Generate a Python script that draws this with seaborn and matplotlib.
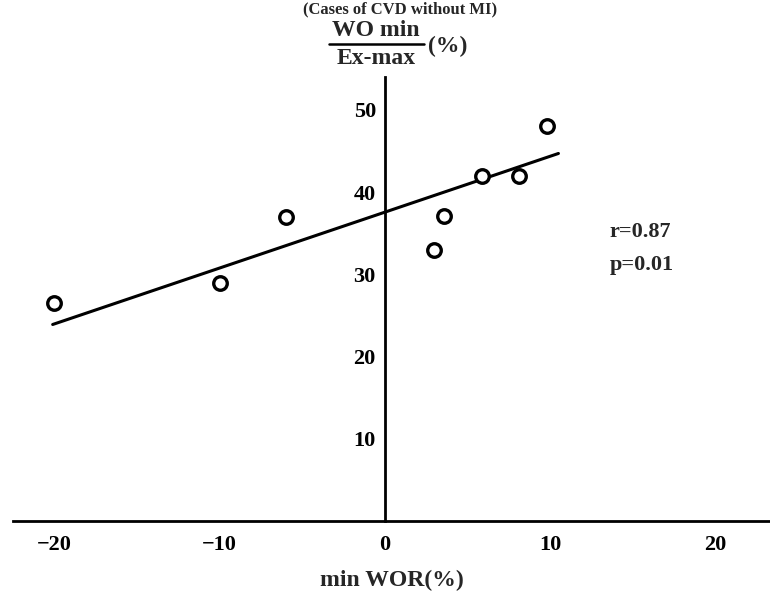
import numpy as np
import pandas as pd
import seaborn as sns
import matplotlib.pyplot as plt
from matplotlib.lines import Line2D

# data
min_wor = [-20, -10, -6, 3.0, 3.6, 5.9, 8.1, 9.8]
wo_ratio = [26.5, 29.0, 37.0, 33.0, 37.1, 42.0, 42.0, 48.1]
fit_x = [-20.1, 10.5]
fit_y = [23.9, 44.7]
x_ticks = [-20, -10, 0, 10, 20]
y_ticks = [10, 20, 30, 40, 50]

df = pd.DataFrame({'min_wor': min_wor, 'wo_ratio': wo_ratio})

sns.set_style('white')
plt.rcParams['font.family'] = ['Liberation Serif', 'DejaVu Serif']
plt.rcParams['font.weight'] = 'bold'

fig = plt.figure(figsize=(7.7, 5.98), dpi=100)
ax = fig.add_axes([13 / 770, 77 / 598, 1 - 13 / 770, 444 / 598])

sns.lineplot(x=fit_x, y=fit_y, ax=ax, color='black', linewidth=2.2)
sns.scatterplot(data=df, x='min_wor', y='wo_ratio', ax=ax, s=95,
                facecolor='white', edgecolor='black', linewidth=2.4, zorder=3)

ax.set_xlim(-22.5, 23.3)
ax.set_ylim(0, 54)
ax.set_xticks(x_ticks)
ax.set_xticklabels(['\u221220', '\u221210', '0', '10', '20'])
ax.set_yticks(y_ticks)

ax.spines['left'].set_position(('data', 0))
ax.spines['right'].set_visible(False)
ax.spines['top'].set_visible(False)
for s in ['left', 'bottom']:
    ax.spines[s].set_linewidth(2.0)
    ax.spines[s].set_color('black')

ax.tick_params(axis='x', direction='in', length=6, width=1.5, pad=10,
               labelsize=16, colors='black')
ax.tick_params(axis='y', direction='inout', length=9, width=1.5, pad=2,
               labelsize=16, colors='black')
for lab in ax.get_xticklabels() + ax.get_yticklabels():
    lab.set_fontweight('bold')

ax.set_xlabel('min WOR(%)', fontsize=17, fontweight='bold', labelpad=11)
ax.set_ylabel('')

ax.text(13.6, 35.1, 'r=0.87', fontsize=16, fontweight='bold', va='center')
ax.text(13.6, 31.1, 'p=0.01', fontsize=16, fontweight='bold', va='center')

# y label as a fraction above the axis
fig.text(376 / 770, 1 - 31 / 598, 'WO min', ha='center', va='center',
         fontsize=17, fontweight='bold')
fig.text(376 / 770, 1 - 58 / 598, 'Ex-max', ha='center', va='center',
         fontsize=17, fontweight='bold')
fig.text(428 / 770, 1 - 46 / 598, '(%)', ha='left', va='center',
         fontsize=17, fontweight='bold')
fig.add_artist(Line2D([329 / 770, 424 / 770], [1 - 44 / 598, 1 - 44 / 598],
                      color='black', linewidth=1.8, transform=fig.transFigure))

# title at the top edge of the scan
fig.text(400 / 770, 1 - 1 / 598, '(Cases of CVD without MI)', ha='center', va='top',
         fontsize=12, fontweight='bold')

fig.savefig('out.png', dpi=100)
